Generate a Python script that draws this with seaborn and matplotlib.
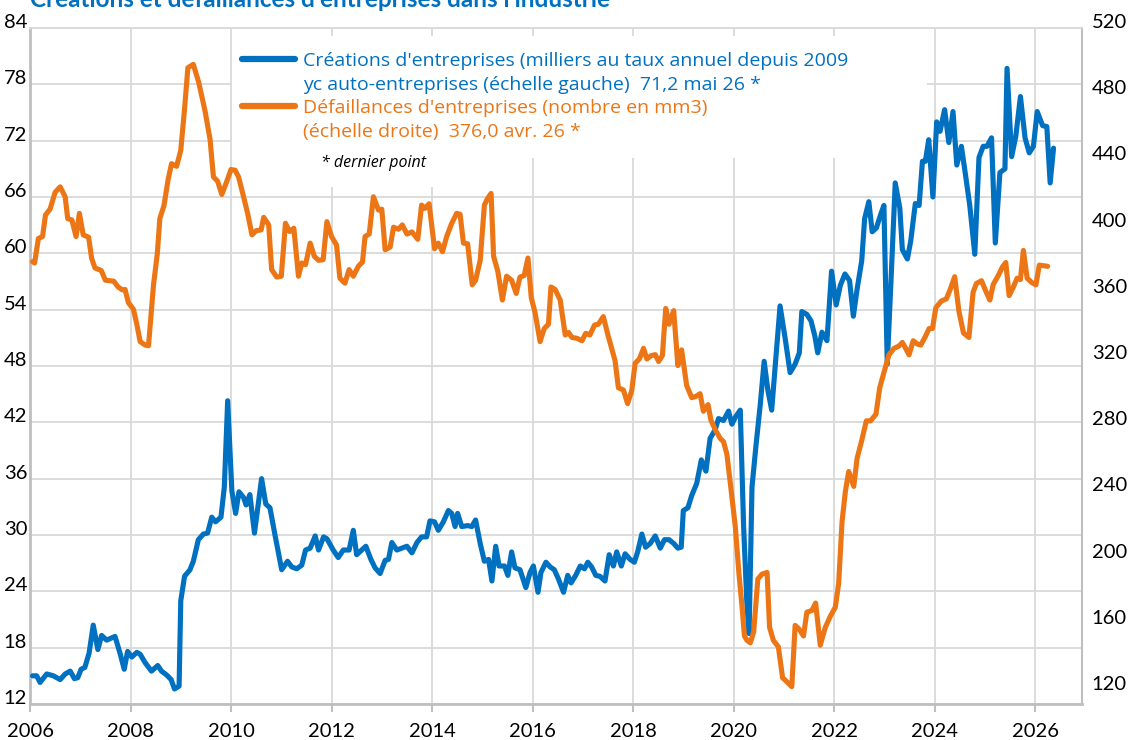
import pandas as pd
import matplotlib
matplotlib.use("Agg")
import matplotlib.pyplot as plt
import matplotlib.transforms as mtransforms
from matplotlib.lines import Line2D
from matplotlib.patches import Rectangle
import seaborn as sns

sns.set_theme(style="white")
plt.rcParams['font.family'] = ['Lato', 'DejaVu Sans']

BLEU = "#0070C0"
ORANGE = "#EC7616"

# mois écoulés depuis janvier 2006
mois_creations = [
    0.6, 1.6, 2.4, 4.0, 5.6, 6.4, 7.2, 8.4, 9.6, 10.6, 11.4, 12.2, 13.1, 14.1, 15.1, 16.2,
    17.1, 18.3, 20.3, 21.5, 22.5, 23.3, 24.3, 25.5, 26.3, 27.5, 29.0, 30.5, 31.4, 32.6,
    33.7, 34.5, 35.6, 36.0, 36.9, 38.2, 39.0, 40.2, 41.4, 42.4, 43.4, 44.3, 45.6, 46.4,
    47.2, 48.2, 49.1, 49.9, 51.0, 51.6, 52.5, 53.6, 55.3, 56.3, 57.3, 58.5, 60.1, 61.5,
    62.5, 63.7, 64.9, 65.8, 66.9, 68.1, 68.9, 70.1, 70.9, 72.4, 73.6, 74.8, 76.2, 77.2,
    78.0, 79.2, 80.2, 81.4, 82.4, 83.6, 84.8, 85.6, 86.4, 87.6, 88.8, 90.0, 91.2, 92.4,
    93.5, 94.7, 95.5, 96.6, 97.5, 98.7, 99.9, 100.7, 101.5, 102.1, 103.1, 104.5, 105.5,
    106.4, 107.5, 108.5, 109.5, 110.3, 111.2, 112.0, 113.3, 114.1, 115.0, 115.8, 117.0,
    118.4, 119.4, 120.2, 121.3, 122.0, 123.2, 124.2, 125.2, 126.2, 127.4, 128.4, 129.2,
    130.3, 131.4, 132.4, 133.2, 134.1, 135.1, 136.1, 137.3, 138.3, 139.3, 140.1, 141.2,
    142.1, 143.3, 144.3, 145.1, 146.1, 147.0, 148.1, 149.3, 150.5, 151.5, 152.6, 153.7,
    154.7, 155.5, 156.0, 157.1, 158.0, 159.2, 160.3, 161.4, 162.4, 163.6, 164.4, 165.6,
    166.8, 167.6, 168.5, 169.6, 170.4, 171.2, 171.7, 172.4, 173.3, 174.4, 175.3, 176.2,
    177.1, 178.3, 179.1, 180.3, 181.5, 182.7, 183.7, 184.3, 185.5, 186.5, 187.4, 188.1,
    189.1, 190.3, 191.4, 192.5, 193.5, 194.6, 195.7, 196.6, 197.5, 198.6, 199.3, 200.3,
    201.1, 202.1, 203.1, 203.9, 204.7, 205.8, 206.6, 207.7, 208.3, 209.5, 210.3, 211.4,
    212.3, 213.1, 213.8, 214.6, 215.6, 216.5, 217.3, 218.4, 219.4, 220.4, 221.3, 222.4,
    223.4, 224.4, 225.6, 226.6, 227.6, 228.5, 229.6, 230.5, 231.6, 232.8, 233.3, 234.4,
    235.4, 236.5, 237.6, 238.6, 239.6, 240.5, 241.8, 242.8, 243.6, 244.4,
]
creations = [
    15.0, 15.0, 14.3, 15.2, 15.0, 14.8, 14.6, 15.2, 15.5, 14.7, 14.8, 15.7, 15.9, 17.4, 20.4, 17.8,
    19.3, 18.8, 19.2, 17.4, 15.7, 17.6, 17.0, 17.5, 17.3, 16.4, 15.5, 16.1, 15.5, 15.1,
    14.6, 13.6, 13.9, 23.0, 25.6, 26.3, 27.2, 29.5, 30.1, 30.2, 31.9, 31.4, 31.9, 35.1,
    44.3, 34.7, 32.3, 34.6, 34.0, 33.2, 34.3, 30.2, 36.0, 33.3, 32.9, 30.0, 26.3, 27.2,
    26.6, 26.4, 26.8, 28.4, 28.6, 29.9, 28.4, 29.8, 29.6, 28.4, 27.6, 28.4, 28.4, 30.5,
    27.9, 28.4, 28.8, 27.4, 26.5, 25.9, 27.3, 27.4, 29.2, 28.4, 28.6, 28.8, 28.1, 29.2,
    29.8, 29.8, 31.5, 31.4, 30.5, 31.4, 32.6, 32.3, 30.9, 32.3, 30.9, 31.0, 30.9,
    31.6, 29.1, 27.2, 27.4, 25.1, 28.8, 26.7, 26.7, 25.7, 28.2, 26.5, 26.3,
    24.4, 26.0, 26.7, 23.9, 26.0, 27.1, 26.6, 26.3, 25.3, 23.9, 25.7, 24.9,
    25.7, 26.7, 26.4, 27.1, 26.6, 25.7, 25.6, 25.1, 27.9, 26.7, 28.2, 26.7,
    28.0, 27.4, 27.1, 28.2, 30.1, 28.7, 29.1, 29.9, 28.6, 29.5, 29.5, 29.1,
    28.6, 28.7, 32.6, 32.9, 34.2, 35.5, 38.0, 36.8, 40.3, 41.2, 42.4, 42.2,
    43.2, 41.8, 42.6, 43.3, 30.9, 22.5, 19.5, 35.1, 39.3, 44.0, 48.5, 45.4,
    43.3, 49.9, 54.4, 51.0, 47.3, 48.2, 49.4, 53.8, 53.5, 52.8, 51.2, 49.4,
    51.6, 50.7, 58.1, 54.5, 56.6, 57.8, 57.1, 53.3, 56.2, 59.2, 63.7, 65.5,
    62.3, 62.7, 64.1, 65.1, 48.2, 59.2, 67.5, 64.8, 60.4, 59.4, 61.3, 65.3,
    65.1, 69.8, 69.8, 72.1, 66.0, 74.0, 73.0, 75.3, 71.8, 75.1, 69.4, 71.4,
    68.3, 65.1, 59.9, 70.2, 71.4, 71.4, 72.3, 61.1, 68.6, 69.0, 79.7, 70.3,
    72.5, 76.7, 72.3, 70.7, 71.4, 75.1, 73.6, 73.5, 67.5, 71.2,
]

mois_defaillances = [
    0.6, 1.1, 2.0, 3.0, 3.7, 4.8, 6.0, 7.2, 8.4, 9.0, 10.0, 11.0, 11.8, 12.7, 14.0, 14.7,
    15.5, 17.0, 18.0, 20.0, 21.0, 22.0, 22.7, 23.5, 24.7, 25.5, 26.3, 27.5, 28.3, 29.5,
    30.4, 31.0, 32.0, 33.0, 33.8, 35.0, 36.0, 36.9, 37.7, 39.0, 40.3, 41.8, 43.0, 43.8,
    44.8, 45.8, 47.0, 48.0, 49.0, 49.8, 51.0, 52.0, 53.0, 54.0, 55.2, 55.8, 57.0, 57.7,
    58.9, 60.0, 61.0, 62.0, 63.0, 64.1, 64.9, 65.8, 66.9, 67.9, 68.9, 70.0, 70.9, 72.0,
    73.2, 74.0, 75.2, 76.2, 77.2, 78.4, 79.4, 80.0, 81.0, 82.0, 83.2, 84.0, 84.8, 86.0,
    86.8, 88.0, 88.9, 90.0, 91.2, 92.6, 93.5, 94.3, 95.3, 96.6, 97.5, 98.5, 99.5, 100.7,
    101.9, 102.7, 103.5, 104.5, 105.6, 106.4, 107.5, 108.5, 109.2, 110.1, 110.7, 111.7,
    112.8, 113.8, 115.0, 116.1, 117.0, 118.0, 118.9, 119.7, 120.6, 121.8, 122.8, 123.8,
    124.4, 125.4, 126.6, 127.8, 128.6, 129.4, 130.6, 131.8, 132.7, 133.7, 134.8, 135.7,
    136.9, 138.0, 138.9, 139.7, 140.5, 141.7, 142.7, 143.7, 144.5, 145.5, 146.5, 147.3,
    148.3, 149.3, 150.1, 151.0, 151.8, 152.6, 153.7, 154.7, 155.6, 156.8, 158.0, 159.0,
    160.0, 160.8, 161.9, 162.6, 163.6, 164.8, 165.6, 166.4, 167.2, 168.4, 169.3, 170.0,
    170.6, 171.2, 172.0, 172.8, 173.8, 174.8, 176.0, 176.6, 177.5, 178.7, 179.7, 180.7,
    181.9, 182.7, 183.7, 184.7, 185.5, 186.7, 187.6, 188.7, 189.9, 191.1, 192.3, 193.1,
    193.9, 194.7, 195.5, 196.7, 197.5, 198.6, 199.7, 200.7, 202.0, 202.9, 203.9, 205.1,
    206.3, 207.5, 208.3, 209.1, 209.9, 210.9, 211.9, 212.7, 213.8, 214.7, 215.5, 216.3,
    217.6, 218.8, 219.7, 220.8, 221.8, 222.9, 224.2, 225.2, 226.0, 227.2, 228.4, 229.2,
    230.0, 231.2, 232.2, 233.0, 233.8, 234.8, 235.7, 236.5, 237.2, 238.1, 239.2, 240.2,
    241.0, 243.0,
]
defaillances = [
    378.8, 378.0, 392.8, 394.0, 407.0, 410.6, 420.7, 424.0, 418.0, 404.8, 404.0, 394.0, 408.0, 395.0, 393.6, 381.0,
    375.0, 373.5, 367.6, 367.0, 363.6, 361.8, 362.0, 354.0, 350.0, 341.0, 330.5, 328.4, 328.0, 365.0,
    383.6, 404.8, 412.8, 428.7, 438.0, 436.4, 446.0, 471.0, 496.0, 498.0, 487.0, 469.8, 452.6, 430.0,
    427.4, 419.4, 427.4, 434.5, 434.0, 430.0, 418.0, 407.6, 395.0, 397.5, 398.0, 405.6, 401.0, 374.0,
    369.5, 370.0, 402.0, 397.0, 399.0, 370.0, 378.0, 377.0, 390.0, 382.0, 379.6, 380.0, 403.0, 394.0,
    388.8, 368.8, 365.8, 374.0, 370.0, 376.0, 378.6, 394.0, 395.5, 418.0, 410.0, 410.5, 386.0, 387.6,
    399.6, 398.4, 401.0, 395.5, 396.8, 392.3, 413.0, 411.0, 413.8, 386.6, 390.0, 384.8, 394.0, 402.0,
    408.0, 407.4, 390.0, 389.6, 364.8, 367.6, 379.6, 413.0, 416.7, 420.0, 382.0, 373.0,
    355.6, 370.0, 367.6, 359.6, 369.5, 370.4, 381.0, 357.0, 348.0, 330.5, 338.4, 341.0,
    363.5, 362.0, 355.6, 334.5, 336.0, 333.0, 332.5, 331.0, 335.5, 334.5, 340.5, 341.0,
    345.6, 334.5, 326.4, 319.0, 302.6, 301.2, 293.0, 301.0, 317.4, 320.0, 326.4, 320.0,
    322.0, 322.6, 318.5, 322.0, 350.5, 341.0, 349.2, 316.0, 325.5, 304.0, 296.6, 297.4,
    299.0, 288.4, 292.4, 283.0, 277.4, 272.0, 270.0, 262.6, 245.5, 219.0, 189.9, 171.0,
    152.6, 150.0, 148.5, 155.0, 187.0, 190.0, 191.0, 157.8, 150.0, 146.0, 127.4, 125.0,
    122.0, 159.0, 156.6, 152.6, 167.0, 168.0, 172.5, 147.0, 157.8, 164.5, 170.0, 184.5,
    221.6, 240.0, 252.0, 243.0, 260.0, 270.7, 282.6, 282.6, 286.6, 302.6, 311.8, 322.5,
    326.4, 327.8, 330.0, 326.4, 322.5, 331.0, 329.0, 328.4, 333.6, 338.4, 338.4, 351.0,
    355.0, 356.3, 361.8, 369.7, 349.0, 335.7, 333.0, 360.4, 365.6, 367.3, 360.0, 355.6,
    365.0, 370.4, 375.6, 378.3, 358.3, 363.4, 368.8, 368.0, 385.6, 368.8, 366.2, 364.8,
    376.7, 376.0,
]

annees = list(range(2006, 2027, 2))

df_c = pd.DataFrame({"mois": mois_creations, "valeur": creations})
df_d = pd.DataFrame({"mois": mois_defaillances, "valeur": defaillances})

fig = plt.figure(figsize=(11.3, 7.4), dpi=100)
ax = fig.add_axes([30 / 1130, 1 - 704 / 740, 1052 / 1130, 676 / 740])
ax2 = ax.twinx()

sns.lineplot(data=df_c, x="mois", y="valeur", ax=ax, color=BLEU, linewidth=3.7,
             estimator=None, sort=False, zorder=3)
sns.lineplot(data=df_d, x="mois", y="valeur", ax=ax2, color=ORANGE, linewidth=3.7,
             estimator=None, sort=False, zorder=3)

ax.set_xlim(0, 251.2)
ax.set_ylim(12, 84)
ax2.set_ylim(111.5, 520)
ax.set_xticks([(a - 2006) * 12 for a in annees])
ax.set_xticklabels([str(a) for a in annees])
ax.set_yticks(range(12, 85, 6))
ax2.set_yticks(range(120, 521, 40))
for a in (ax, ax2):
    a.set_xlabel("")
    a.set_ylabel("")

ax.grid(True, color="#D9D9D9", linewidth=1.3)
ax2.grid(False)
for s in ax2.spines.values():
    s.set_visible(False)
ax.spines["left"].set_color("#BFBFBF")
ax.spines["left"].set_linewidth(2)
ax.spines["bottom"].set_color("#BFBFBF")
ax.spines["bottom"].set_linewidth(2)
ax.spines["top"].set_color("#D9D9D9")
ax.spines["top"].set_linewidth(1.3)
ax.spines["right"].set_color("#BFBFBF")
ax.spines["right"].set_linewidth(1.5)

ax.tick_params(axis="x", direction="out", length=6, width=1.5, color="#BFBFBF",
               pad=8, labelsize=14.5, labelcolor="black", bottom=True)
ax.tick_params(axis="y", length=0, pad=2, labelsize=14.5, labelcolor="black")
ax2.tick_params(axis="y", length=0, pad=7, labelsize=14.5, labelcolor="black")

# étiquettes des axes verticaux légèrement au-dessus des lignes
decal = mtransforms.ScaledTranslation(0, 7 / 100, fig.dpi_scale_trans)
for t in ax.yaxis.get_major_ticks() + ax2.yaxis.get_major_ticks():
    t.label1.set_transform(t.label1.get_transform() + decal)
    t.label2.set_transform(t.label2.get_transform() + decal)

# fond blanc de la légende
ax.add_patch(Rectangle((0.192, 0.808), 0.661, 0.18, transform=ax.transAxes,
                       facecolor="white", edgecolor="none", zorder=1.5))
ax.add_patch(Rectangle((0.257, 0.765), 0.133, 0.06, transform=ax.transAxes,
                       facecolor="white", edgecolor="none", zorder=1.5))

handles = [Line2D([], [], color=BLEU, linewidth=4.5), Line2D([], [], color="none"),
           Line2D([], [], color=ORANGE, linewidth=4.5), Line2D([], [], color="none")]
labels = ["Créations d'entreprises (milliers au taux annuel depuis 2009",
          "yc auto-entreprises (échelle gauche)  71,2 mai 26 *",
          "Défaillances d'entreprises (nombre en mm3)",
          "(échelle droite)  376,0 avr. 26 *"]
leg = fig.legend(handles, labels, loc="upper left", bbox_to_anchor=(242 / 1130, 1 - 52 / 740),
                 frameon=False, borderpad=0, borderaxespad=0, handlelength=2.7,
                 handletextpad=0.45, labelspacing=0.29,
                 prop={"family": ["Open Sans", "DejaVu Sans"], "size": 14})
for txt, c in zip(leg.get_texts(), [BLEU, BLEU, ORANGE, ORANGE]):
    txt.set_color(c)

fig.text(321 / 1130, 1 - 163 / 740, "* dernier point", style="italic", fontsize=11.5,
         family=["Open Sans", "DejaVu Sans"], va="center", ha="left", color="black")

fig.text(30 / 1130, 1 - 7 / 740, "Créations et défaillances d'entreprises dans l'industrie",
         color=BLEU, fontsize=17.5, fontweight="bold", va="baseline", ha="left")

fig.savefig("out.png", dpi=100)
